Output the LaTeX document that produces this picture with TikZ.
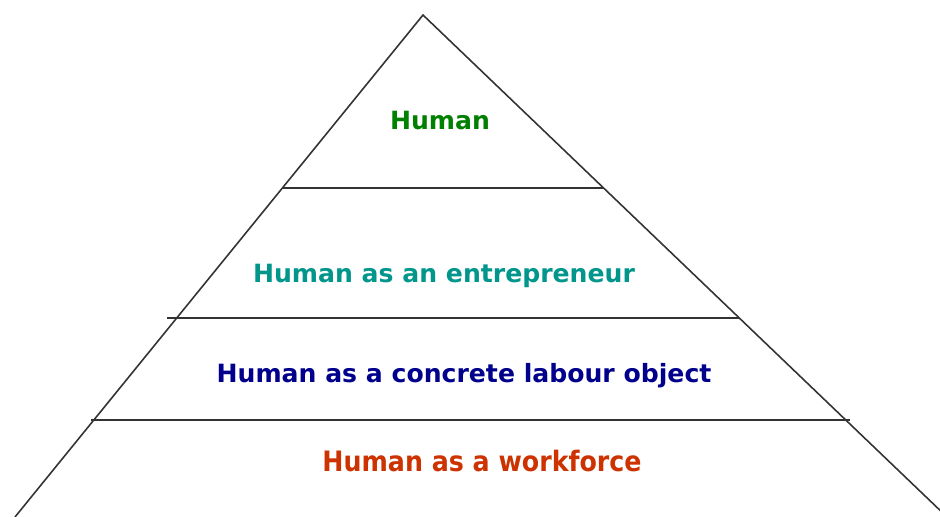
\documentclass[tikz,border=0pt]{standalone}
\usepackage{fontspec}
\setmainfont{DejaVu Sans}
\newfontfamily\narrowfont{DejaVu Sans Condensed}
\usetikzlibrary{calc}
\definecolor{lvlgreen}{RGB}{0,128,0}
\definecolor{lvlteal}{RGB}{0,150,140}
\definecolor{lvlnavy}{RGB}{0,0,140}
\definecolor{lvlred}{RGB}{204,51,0}
\tikzset{
  edge/.style={draw=black!80,line width=0.9pt},
  level/.style={font=\bfseries\fontsize{14.3}{16}\selectfont,inner sep=0pt}
}

\begin{document}
\begin{tikzpicture}[x=0.02cm,y=-0.02cm]
  \useasboundingbox (0,0) rectangle (940,517);
  \clip (0,0) rectangle (940,517);
  \coordinate (apex) at (423,15);
  \coordinate (left base) at (15,517);
  \coordinate (right base) at (947,517);

  % the three cuts
  \coordinate (cut1 l) at ($(apex)!0.3446!(left base)$);
  \coordinate (cut1 r) at ($(apex)!0.3446!(right base)$);
  \coordinate (cut2 l) at ($(apex)!0.6036!(left base)+(-10,0)$);
  \coordinate (cut2 r) at ($(apex)!0.6036!(right base)$);
  \coordinate (cut3 l) at ($(apex)!0.8068!(left base)+(-3,0)$);
  \coordinate (cut3 r) at ($(apex)!0.8068!(right base)+(4,0)$);

  \draw[edge] (left base) -- (apex) -- (right base);
  \draw[edge] (cut1 l) -- (cut1 r);
  \draw[edge] (cut2 l) -- (cut2 r);
  \draw[edge] (cut3 l) -- (cut3 r);

  \node[level,text=lvlgreen] (human) at (440,121) {Human};
  \node[level,text=lvlteal] (entrepreneur) at (444,276) {Human as an entrepreneur};
  \node[level,text=lvlnavy] (labour) at (464,376) {Human as a concrete labour object};
  \node[level,text=lvlred,font=\narrowfont\bfseries\fontsize{16}{18}\selectfont] (workforce) at (482,461) {Human as a workforce};
\end{tikzpicture}
\end{document}
